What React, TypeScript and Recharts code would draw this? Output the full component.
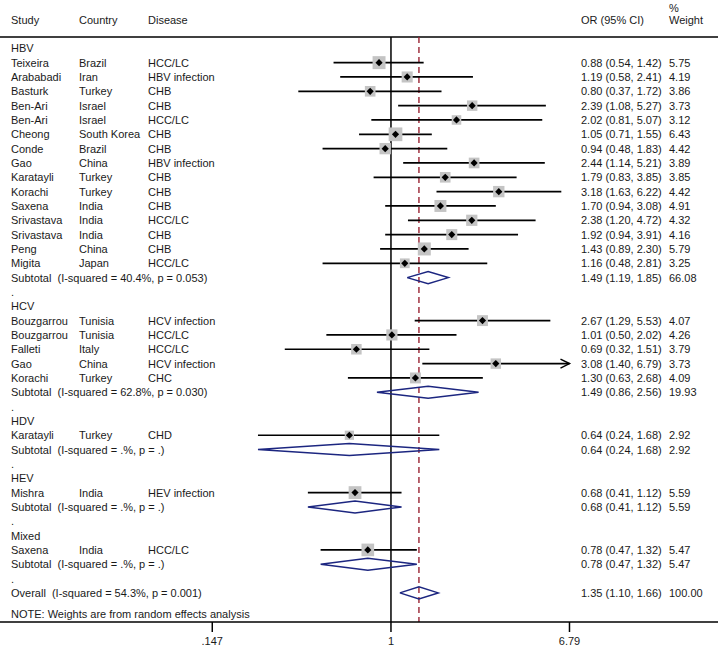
import React from "react"
import {
  ComposedChart,
  Scatter,
  Line,
  XAxis,
  YAxis,
  ReferenceLine,
  ErrorBar,
} from "recharts"

// groups and studies
const groupNames = ["HBV", "HCV", "HDV", "HEV", "Mixed"]
const studyGroup = [0, 0, 0, 0, 0, 0, 0, 0, 0, 0, 0, 0, 0, 0, 0, 1, 1, 1, 1, 1, 2, 3, 4]
const studyNames = [
  "Teixeira", "Arababadi", "Basturk", "Ben-Ari", "Ben-Ari", "Cheong", "Conde", "Gao",
  "Karatayli", "Korachi", "Saxena", "Srivastava", "Srivastava", "Peng", "Migita",
  "Bouzgarrou", "Bouzgarrou", "Falleti", "Gao", "Korachi",
  "Karatayli", "Mishra", "Saxena",
]
const countries = [
  "Brazil", "Iran", "Turkey", "Israel", "Israel", "South Korea", "Brazil", "China",
  "Turkey", "Turkey", "India", "India", "India", "China", "Japan",
  "Tunisia", "Tunisia", "Italy", "China", "Turkey",
  "Turkey", "India", "India",
]
const diseases = [
  "HCC/LC", "HBV infection", "CHB", "CHB", "HCC/LC", "CHB", "CHB", "HBV infection",
  "CHB", "CHB", "CHB", "HCC/LC", "CHB", "CHB", "HCC/LC",
  "HCV infection", "HCC/LC", "HCC/LC", "HCV infection", "CHC",
  "CHD", "HEV infection", "HCC/LC",
]
const studyOR = [0.88, 1.19, 0.8, 2.39, 2.02, 1.05, 0.94, 2.44, 1.79, 3.18, 1.7, 2.38, 1.92, 1.43, 1.16, 2.67, 1.01, 0.69, 3.08, 1.3, 0.64, 0.68, 0.78]
const studyLo = [0.54, 0.58, 0.37, 1.08, 0.81, 0.71, 0.48, 1.14, 0.83, 1.63, 0.94, 1.2, 0.94, 0.89, 0.48, 1.29, 0.5, 0.32, 1.4, 0.63, 0.24, 0.41, 0.47]
const studyHi = [1.42, 2.41, 1.72, 5.27, 5.07, 1.55, 1.83, 5.21, 3.85, 6.22, 3.08, 4.72, 3.91, 2.3, 2.81, 5.53, 2.02, 1.51, 6.79, 2.68, 1.68, 1.12, 1.32]
const studyWeight = [5.75, 4.19, 3.86, 3.73, 3.12, 6.43, 4.42, 3.89, 3.85, 4.42, 4.91, 4.32, 4.16, 5.79, 3.25, 4.07, 4.26, 3.79, 3.73, 4.09, 2.92, 5.59, 5.47]

// subtotals
const subtotalLabels = [
  "Subtotal  (I-squared = 40.4%, p = 0.053)",
  "Subtotal  (I-squared = 62.8%, p = 0.030)",
  "Subtotal  (I-squared = .%, p = .)",
  "Subtotal  (I-squared = .%, p = .)",
  "Subtotal  (I-squared = .%, p = .)",
]
const subtotalOR = [1.49, 1.49, 0.64, 0.68, 0.78]
const subtotalLo = [1.19, 0.86, 0.24, 0.41, 0.47]
const subtotalHi = [1.85, 2.56, 1.68, 1.12, 1.32]
const subtotalWeight = [66.08, 19.93, 2.92, 5.59, 5.47]

const overallLabel = "Overall  (I-squared = 54.3%, p = 0.001)"
const overallOR = 1.35
const overallLo = 1.1
const overallHi = 1.66
const overallWeight = 100.0
const noteText = "NOTE: Weights are from random effects analysis"

const axisTicks = [0.147, 1, 6.79]
const axisTickLabels = [".147", "1", "6.79"]

const FONT = "'Liberation Sans', Arial, sans-serif"
const ln = Math.log
const fmtCI = (o: number, l: number, h: number) => `${o.toFixed(2)} (${l.toFixed(2)}, ${h.toFixed(2)})`

type Row = { r: number; study?: string; country?: string; disease?: string; ci?: string; weight?: string }

// build the table rows
const rows: Row[] = []
const studyPoints: any[] = []
const diamonds: { x: number; y: number }[][] = []
const DH = 0.42
const makeDiamond = (o: number, l: number, h: number, r: number) => [
  { x: ln(l), y: r },
  { x: ln(o), y: r - DH },
  { x: ln(h), y: r },
  { x: ln(o), y: r + DH },
  { x: ln(l), y: r },
]
let r = 0
groupNames.forEach((g, gi) => {
  rows.push({ r: r++, study: g })
  studyNames.forEach((s, i) => {
    if (studyGroup[i] !== gi) return
    rows.push({
      r,
      study: s,
      country: countries[i],
      disease: diseases[i],
      ci: fmtCI(studyOR[i], studyLo[i], studyHi[i]),
      weight: studyWeight[i].toFixed(2),
    })
    studyPoints.push({
      x: ln(studyOR[i]),
      y: r,
      w: studyWeight[i],
      err: [ln(studyOR[i]) - ln(studyLo[i]), ln(studyHi[i]) - ln(studyOR[i])],
      hi: studyHi[i],
    })
    r++
  })
  rows.push({
    r,
    study: subtotalLabels[gi],
    ci: fmtCI(subtotalOR[gi], subtotalLo[gi], subtotalHi[gi]),
    weight: subtotalWeight[gi].toFixed(2),
  })
  diamonds.push(makeDiamond(subtotalOR[gi], subtotalLo[gi], subtotalHi[gi], r))
  r++
  rows.push({ r: r++, study: "." })
})
rows.push({ r, study: overallLabel, ci: fmtCI(overallOR, overallLo, overallHi), weight: overallWeight.toFixed(2) })
diamonds.push(makeDiamond(overallOR, overallLo, overallHi, r))
const overallRow = r
rows.push({ r: overallRow + 1.47, study: noteText })
rows.push({ r: -2, study: "Study", country: "Country", disease: "Disease", ci: "OR (95% CI)", weight: "Weight" })
rows.push({ r: -2.8, weight: "%" })

// text rows are anchored on the y scale; the x anchor is the null line
const textPoints = rows.map((row) => ({ x: 0, y: row.r, row }))
const arrowPoints = studyPoints
  .filter((p) => p.hi >= axisTicks[axisTicks.length - 1])
  .map((p) => ({ x: ln(p.hi), y: p.y }))

const COLS = { study: 11, country: 79, disease: 148, ci: 581, weight: 669 }

const RowText = (props: any) => {
  const { cy, payload } = props
  const row: Row = payload.row
  const t = (x: number, s?: string) =>
    s ? (
      <text x={x} y={cy} dominantBaseline="central" fontSize={11} fill="#1a1a1a" fontFamily={FONT} style={{ whiteSpace: "pre" }}>
        {s}
      </text>
    ) : null
  return (
    <g>
      {t(COLS.study, row.study)}
      {t(COLS.country, row.country)}
      {t(COLS.disease, row.disease)}
      {t(COLS.ci, row.ci)}
      {t(COLS.weight, row.weight)}
    </g>
  )
}

const BoxShape = (props: any) => {
  const { cx, cy, payload } = props
  const s = 5.4 * Math.sqrt(payload.w)
  return <rect x={cx - s / 2} y={cy - s / 2} width={s} height={s} fill="#c4c4c4" />
}

const PointShape = (props: any) => {
  const { cx, cy } = props
  const d = 3.6
  return <polygon points={`${cx - d},${cy} ${cx},${cy - d} ${cx + d},${cy} ${cx},${cy + d}`} fill="#000" />
}

const ArrowShape = (props: any) => {
  const { cx, cy } = props
  return <polyline points={`${cx - 9},${cy - 4.5} ${cx},${cy} ${cx - 9},${cy + 4.5}`} fill="none" stroke="#000" strokeWidth={1.5} />
}

const TOP_LINE = -0.79
const Y_DOMAIN: [number, number] = [-3.371, 40.03]

export default function App() {
  return (
    <div style={{ position: "absolute", left: 0, top: 0, background: "#fff" }}>
      <ComposedChart width={718} height={648} margin={{ top: 0, right: 0, bottom: 0, left: 0 }}>
        <XAxis
          type="number"
          dataKey="x"
          domain={[-4.195, 3.509]}
          allowDataOverflow
          ticks={axisTicks.map(ln)}
          tickFormatter={(v: number) => axisTickLabels[axisTicks.findIndex((t) => Math.abs(ln(t) - v) < 1e-6)] ?? ""}
          height={26}
          tickSize={10}
          tickMargin={5}
          stroke="#000"
          strokeWidth={1.5}
          tick={{ fill: "#1a1a1a", fontSize: 11, fontFamily: FONT }}
          interval={0}
        />
        <YAxis type="number" dataKey="y" domain={Y_DOMAIN} allowDataOverflow reversed hide />
        <ReferenceLine y={TOP_LINE} stroke="#000" strokeWidth={1.5} />
        <ReferenceLine
          segment={[{ x: 0, y: TOP_LINE }, { x: 0, y: Y_DOMAIN[1] }]}
          stroke="#000"
          strokeWidth={1.5}
        />
        <ReferenceLine
          segment={[{ x: ln(overallOR), y: TOP_LINE }, { x: ln(overallOR), y: Y_DOMAIN[1] }]}
          stroke="#9a2433"
          strokeWidth={1.4}
          strokeDasharray="6 4"
        />
        <Scatter data={textPoints} shape={<RowText />} isAnimationActive={false} />
        <Scatter data={studyPoints} shape={<BoxShape />} isAnimationActive={false} />
        <Scatter data={studyPoints} shape={<PointShape />} isAnimationActive={false}>
          <ErrorBar dataKey="err" direction="x" width={0} stroke="#000" strokeWidth={1.7} />
        </Scatter>
        <Scatter data={arrowPoints} shape={<ArrowShape />} isAnimationActive={false} />
        {diamonds.map((d, i) => (
          <Line
            key={i}
            data={d}
            dataKey="y"
            type="linear"
            stroke="#1c2680"
            strokeWidth={1.5}
            dot={false}
            activeDot={false}
            isAnimationActive={false}
          />
        ))}
      </ComposedChart>
    </div>
  )
}
